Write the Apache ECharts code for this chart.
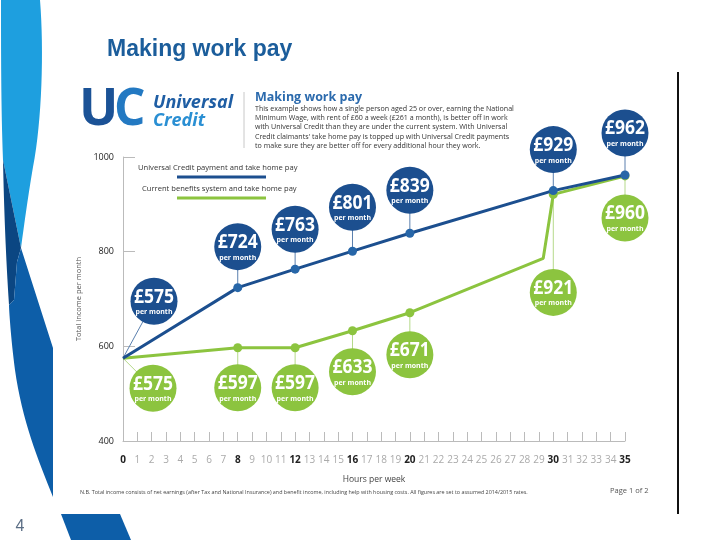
<!DOCTYPE html>
<html>
<head>
<meta charset="utf-8">
<script src="https://cdn.jsdelivr.net/npm/echarts@6/dist/echarts.min.js"></script>
<style>
html,body{margin:0;padding:0;background:#fff;}
#chart{width:720px;height:540px;}
</style>
</head>
<body>
<div id="chart"></div>
<script>
// ---- data ----
const hourTicks = Array.from({length: 36}, (_, i) => i);          // x tick labels 0..35
const keyHours = [0, 8, 12, 16, 20, 30, 35];                     // bold ticks / labelled points
const ucHours = [0, 8, 12, 16, 20, 30, 35];
const ucIncome = [575, 724, 763, 801, 839, 929, 962];
const currentHours = [0, 8, 12, 16, 20, 29.3, 30, 35];
const currentIncome = [575, 597, 597, 633, 671, 786, 921, 960];
const yTicks = [400, 600, 800, 1000];

// ---- layout for callout bubbles (pixel offsets from the point) ----
const ucOffsets = [[31, -57], [0, -41], [0, -40], [0, -44], [0, -43], [0, -41], [0, -42]];
const curOffsets = [[30, 30], [0, 40], [0, 40], [0, 41], [0, 42], [0, 98], [0, 42]];

const BLUE = '#1c4f8f', BLUE_DOT = '#2766a8', GREEN = '#8cc43f';
const FONT = '"Open Sans", "DejaVu Sans", sans-serif';

const ucData = ucHours.map((h, i) => ({value: [h, ucIncome[i]], symbol: h === 0 ? 'none' : 'circle'}));
const curData = currentHours.map((h, i) => ({value: [currentHours[i], currentIncome[i]], symbol: keyHours.includes(h) && h !== 0 ? 'circle' : 'none'}));
const curLabelled = currentHours.map((h, i) => [h, currentIncome[i]]).filter(d => keyHours.includes(d[0]));

function callout(fill, lineColor, offsets) {
  return function (params, api) {
    const i = params.dataIndex;
    const pt = api.coord([api.value(0), api.value(1)]);
    const cx = pt[0] + offsets[i][0], cy = pt[1] + offsets[i][1];
    return {
      type: 'group',
      children: [
        {type: 'line', shape: {x1: pt[0], y1: pt[1], x2: cx, y2: cy}, style: {stroke: lineColor, lineWidth: 1}},
        {type: 'circle', shape: {cx: cx, cy: cy, r: 23.5}, style: {fill: fill}},
        {type: 'text', x: cx, y: cy - 4, scaleX: 0.92, style: {x: 0, y: 0, text: '£' + api.value(1), fill: '#fff', font: 'bold 19px ' + FONT, align: 'center', verticalAlign: 'middle'}},
        {type: 'text', style: {x: cx, y: cy + 11, text: 'per month', fill: '#fff', font: 'bold 7px ' + FONT, align: 'center', verticalAlign: 'middle'}}
      ]
    };
  };
}

// sample a simple path of line / cubic segments into polygon points
function shape(segs) {
  const pts = [];
  let cur = segs[0];
  pts.push(cur);
  for (let s = 1; s < segs.length; s++) {
    const seg = segs[s];
    if (seg.length === 2) { pts.push(seg); cur = seg; continue; }
    const [c1x, c1y, c2x, c2y, ex, ey] = seg;
    for (let k = 1; k <= 16; k++) {
      const t = k / 16, u = 1 - t;
      pts.push([
        u*u*u*cur[0] + 3*u*u*t*c1x + 3*u*t*t*c2x + t*t*t*ex,
        u*u*u*cur[1] + 3*u*u*t*c1y + 3*u*t*t*c2y + t*t*t*ey
      ]);
    }
    cur = [ex, ey];
  }
  return pts;
}

const para = [
  'This example shows how a single person aged 25 or over, earning the National',
  'Minimum Wage, with rent of £60 a week (£261 a month), is better off in work',
  'with Universal Credit than they are under the current system. With Universal',
  'Credit claimants\' take home pay is topped up with Universal Credit payments',
  'to make sure they are better off for every additional hour they work.'
];

const graphics = [
  // left decorative swooshes
  {type: 'polygon', shape: {points: shape([[1,0],[40,0],[44,50,42,120,33,167],[29,190,24,225,21,248],[3,160],[1,110,1,50,1,0]])}, style: {fill: '#1e9fdf'}},
  {type: 'polygon', shape: {points: shape([[3,160],[21,248],[17,262],[14,300],[9,305],[6,260,4,210,3,160]])}, style: {fill: '#0b4682'}},
  {type: 'polygon', shape: {points: shape([[21,248],[53,348],[53,497],[38,460,22,420,15,370],[11,340,9,310,9,305],[14,300],[17,262]])}, style: {fill: '#0d5ea8'}},
  {type: 'polygon', shape: {points: [[61,514],[120,514],[131,540],[71,540]]}, style: {fill: '#0d5ea8'}},
  {type: 'text', style: {x: 20, y: 527, text: '4', fill: '#5b6e85', font: '16px "Liberation Sans", Arial, sans-serif', align: 'center', verticalAlign: 'middle'}},
  // slide title
  {type: 'text', style: {x: 107, y: 50, text: 'Making work pay', fill: '#1b5d9b', font: 'bold 23px "Liberation Sans", Arial, sans-serif', verticalAlign: 'middle'}},
  // right border line
  {type: 'line', shape: {x1: 678, y1: 72, x2: 678, y2: 514}, style: {stroke: '#111', lineWidth: 2}},
  // logo
  {type: 'text', x: 79, y: 110, style: {x: 0, y: 0, text: 'U', fill: '#1b5296', font: 'bold 52px ' + FONT, verticalAlign: 'middle'}},
  {type: 'text', x: 114, y: 110, scaleX: 0.95, style: {x: 0, y: 0, text: 'C', fill: '#2379c2', font: 'bold 52px ' + FONT, verticalAlign: 'middle'}},
  {type: 'text', style: {x: 153, y: 103, text: 'Universal', fill: '#1f5ea4', font: 'italic bold 18px ' + FONT, verticalAlign: 'middle'}},
  {type: 'text', style: {x: 153, y: 121, text: 'Credit', fill: '#2a8fd3', font: 'italic bold 18px ' + FONT, verticalAlign: 'middle'}},
  {type: 'line', shape: {x1: 244, y1: 92, x2: 244, y2: 148}, style: {stroke: '#c8c8c8', lineWidth: 1}},
  {type: 'text', style: {x: 255, y: 97, text: 'Making work pay', fill: '#2b6aad', font: 'bold 12.5px ' + FONT, verticalAlign: 'middle'}},
  // legend
  {type: 'text', style: {x: 138, y: 168, text: 'Universal Credit payment and take home pay', fill: '#333', font: '7.6px ' + FONT, verticalAlign: 'middle'}},
  {type: 'line', shape: {x1: 177, y1: 177, x2: 266, y2: 177}, style: {stroke: BLUE, lineWidth: 3}},
  {type: 'text', style: {x: 142, y: 189, text: 'Current benefits system and take home pay', fill: '#333', font: '7.6px ' + FONT, verticalAlign: 'middle'}},
  {type: 'line', shape: {x1: 177, y1: 198, x2: 266, y2: 198}, style: {stroke: GREEN, lineWidth: 3}},
  // footnote
  {type: 'text', style: {x: 80, y: 492, text: 'N.B. Total income consists of net earnings (after Tax and National Insurance) and benefit income, including help with housing costs. All figures are set to assumed 2014/2015 rates.', fill: '#444', font: '5.4px ' + FONT, verticalAlign: 'middle'}},
  {type: 'text', style: {x: 610, y: 491, text: 'Page 1 of 2', fill: '#555', font: '7.5px ' + FONT, verticalAlign: 'middle'}}
];
para.forEach((t, i) => graphics.push({type: 'text', style: {x: 255, y: 109 + i * 9.2, text: t, fill: '#333', font: '7.1px ' + FONT, verticalAlign: 'middle'}}));

const chart = echarts.init(document.getElementById('chart'), null, {renderer: 'canvas'});
chart.setOption({
  animation: false,
  backgroundColor: '#fff',
  grid: {left: 123, right: 95, top: 157, bottom: 99},
  xAxis: {
    type: 'value', min: 0, max: 35, interval: 1,
    name: 'Hours per week', nameLocation: 'middle', nameGap: 34,
    nameTextStyle: {fontSize: 8.5, color: '#444', fontFamily: FONT},
    axisLine: {lineStyle: {color: '#bbb', width: 1}},
    axisTick: {inside: true, length: 9, lineStyle: {color: '#bbb'}},
    splitLine: {show: false},
    axisLabel: {
      margin: 14,
      formatter: v => keyHours.includes(v) ? '{b|' + hourTicks[v] + '}' : '{n|' + hourTicks[v] + '}',
      rich: {
        b: {fontSize: 10, fontWeight: 'bold', color: '#222', fontFamily: FONT},
        n: {fontSize: 10, color: '#aaa', fontFamily: FONT}
      }
    }
  },
  yAxis: {
    type: 'value', min: yTicks[0], max: yTicks[yTicks.length - 1], interval: 200,
    name: 'Total income per month', nameLocation: 'middle', nameGap: 31, nameRotate: 90,
    nameTextStyle: {fontSize: 7.5, color: '#555', fontFamily: FONT},
    axisLine: {show: true, lineStyle: {color: '#bbb', width: 1}},
    axisTick: {show: true, inside: true, length: 12, lineStyle: {color: '#bbb'}},
    splitLine: {show: false},
    axisLabel: {margin: 9, fontSize: 9, color: '#222', fontFamily: FONT, formatter: v => String(v)}
  },
  graphic: graphics,
  series: [
    {type: 'custom', z: 1, data: curLabelled, renderItem: callout(GREEN, '#b5d98a', curOffsets), clip: false},
    {type: 'custom', z: 1, data: ucHours.map((h, i) => [h, ucIncome[i]]), renderItem: callout(BLUE, '#5a7fae', ucOffsets), clip: false},
    {type: 'line', z: 3, data: curData, symbolSize: 9, lineStyle: {color: GREEN, width: 3}, itemStyle: {color: GREEN}},
    {type: 'line', z: 4, data: ucData, symbolSize: 9, lineStyle: {color: BLUE, width: 3}, itemStyle: {color: BLUE_DOT}}
  ]
});
</script>
</body>
</html>
